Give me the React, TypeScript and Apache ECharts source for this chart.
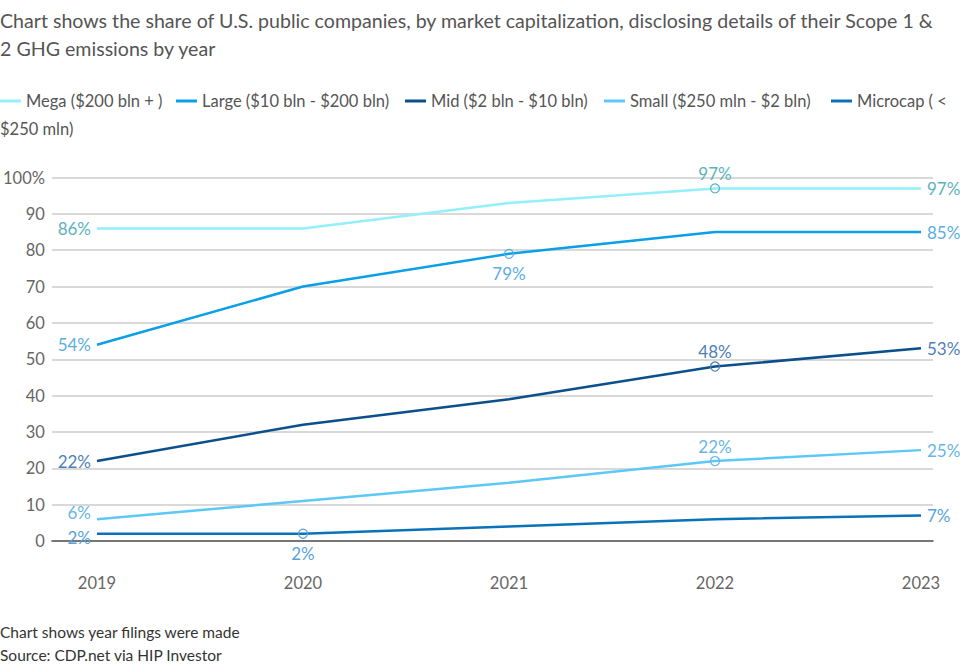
import React, { useEffect, useRef } from "react";
import * as echarts from "echarts";

const years = ["2019", "2020", "2021", "2022", "2023"];
const seriesNames = [
  "Mega ($200 bln + )",
  "Large ($10 bln - $200 bln)",
  "Mid ($2 bln - $10 bln)",
  "Small ($250 mln - $2 bln)",
  "Microcap ( < $250 mln)",
];
const megaValues = [86, 86, 93, 97, 97];
const largeValues = [54, 70, 79, 85, 85];
const midValues = [22, 32, 39, 48, 53];
const smallValues = [6, 11, 16, 22, 25];
const microValues = [2, 2, 4, 6, 7];
const markedIndex = [3, 2, 3, 3, 1];
const markedPosition = ["top", "bottom", "top", "top", "bottom"];
const yTicks = [0, 10, 20, 30, 40, 50, 60, 70, 80, 90, 100];

const lineColors = ["#93EFFA", "#0A9FE6", "#0B4F8C", "#5CC8F8", "#0A72B8"];
const labelColors = ["#5DB2BC", "#5AAEE0", "#4F80B5", "#68B6E2", "#5AA3DA"];
const firstLabelShift = [0, 0, 0, -7, 4];

const FONT = "Lato, 'Noto Sans', sans-serif";

export default function App() {
  const ref = useRef<HTMLDivElement>(null);
  useEffect(() => {
    document.body.style.margin = "0";
    const chart = echarts.init(ref.current!, null, { renderer: "svg" });
    const allValues = [megaValues, largeValues, midValues, smallValues, microValues];

    const series = allValues.map((vals, s) => ({
      name: seriesNames[s],
      type: "line",
      xAxisIndex: 1,
      yAxisIndex: 1,
      symbol: "circle",
      showSymbol: true,
      lineStyle: { color: lineColors[s], width: 2.5 },
      itemStyle: { color: "rgba(0,0,0,0)", borderColor: labelColors[s], borderWidth: 1.2 },
      z: 3,
      data: vals.map((v, i) => {
        const marked = i === markedIndex[s];
        const show = i === 0 || i === vals.length - 1 || marked;
        const position = i === 0 ? "left" : i === vals.length - 1 ? "right" : markedPosition[s];
        return {
          value: v,
          symbolSize: marked ? 9 : 0,
          label: {
            show,
            position,
            distance: position === "bottom" ? 6 : position === "top" ? 1 : 6,
            offset: i === 0 ? [0, firstLabelShift[s]] : [0, 0],
            formatter: "{c}%",
            color: labelColors[s],
            fontSize: 17,
            fontFamily: FONT,
          },
        };
      }),
    }));

    const legendX = [0, 176, 405, 604, 831];
    const legendGraphics: any[] = [];
    seriesNames.forEach((name, s) => {
      const text = s === 4 ? "Microcap ( <" : name;
      legendGraphics.push({
        type: "rect",
        shape: { x: legendX[s], y: 99.5, width: 21, height: 3 },
        style: { fill: lineColors[s] },
      });
      legendGraphics.push({
        type: "text",
        x: legendX[s] + 26,
        y: 101,
        style: { text, fill: "#555", fontSize: 16.5, fontFamily: FONT, textVerticalAlign: "middle" },
      });
    });
    legendGraphics.push({
      type: "text",
      x: 0,
      y: 129,
      style: { text: "$250 mln)", fill: "#555", fontSize: 16.5, fontFamily: FONT, textVerticalAlign: "middle" },
    });
    legendGraphics.push({
      type: "text",
      x: 0,
      y: 632,
      style: { text: "Chart shows year filings were made", fill: "#333", fontSize: 15.5, fontFamily: FONT, textVerticalAlign: "middle" },
    });
    legendGraphics.push({
      type: "text",
      x: 0,
      y: 655,
      style: { text: "Source: CDP.net via HIP Investor", fill: "#333", fontSize: 15.5, fontFamily: FONT, textVerticalAlign: "middle" },
    });

    chart.setOption({
      animation: false,
      backgroundColor: "#fff",
      title: {
        text: "Chart shows the share of U.S. public companies, by market capitalization, disclosing details of their Scope 1 &\n2 GHG emissions by year",
        left: 0,
        top: 6,
        padding: 0,
        textStyle: {
          fontSize: 19.6,
          fontWeight: "normal",
          color: "#555",
          fontFamily: FONT,
          lineHeight: 28,
        },
      },
      grid: [
        { left: 50, right: 27, top: 177.5, bottom: 127 },
        { left: 97, right: 39, top: 177.5, bottom: 127 },
      ],
      xAxis: [
        {
          type: "value",
          gridIndex: 0,
          min: 0,
          max: 1,
          axisLine: { show: true, lineStyle: { color: "#555", width: 1.5 } },
          axisTick: { show: false },
          axisLabel: { show: false },
          splitLine: { show: false },
        },
        {
          type: "category",
          gridIndex: 1,
          data: years,
          boundaryGap: false,
          axisLine: { show: false },
          axisTick: { show: false },
          axisLabel: { color: "#666", fontSize: 16.5, fontFamily: FONT, margin: 33 },
          splitLine: { show: false },
        },
      ],
      yAxis: [
        {
          type: "value",
          gridIndex: 0,
          min: yTicks[0],
          max: yTicks[yTicks.length - 1],
          interval: 10,
          axisLine: { show: false },
          axisTick: { show: false },
          axisLabel: {
            color: "#666",
            fontSize: 16.5,
            fontFamily: FONT,
            margin: 7,
            formatter: (v: number) => (v === 100 ? "100%" : String(v)),
          },
          splitLine: { show: true, lineStyle: { color: "#ccc", width: 1.5 } },
        },
        {
          type: "value",
          gridIndex: 1,
          min: 0,
          max: 100,
          show: false,
        },
      ],
      graphic: legendGraphics,
      series,
    });
    return () => chart.dispose();
  }, []);
  return <div ref={ref} style={{ width: 960, height: 668 }} />;
}
